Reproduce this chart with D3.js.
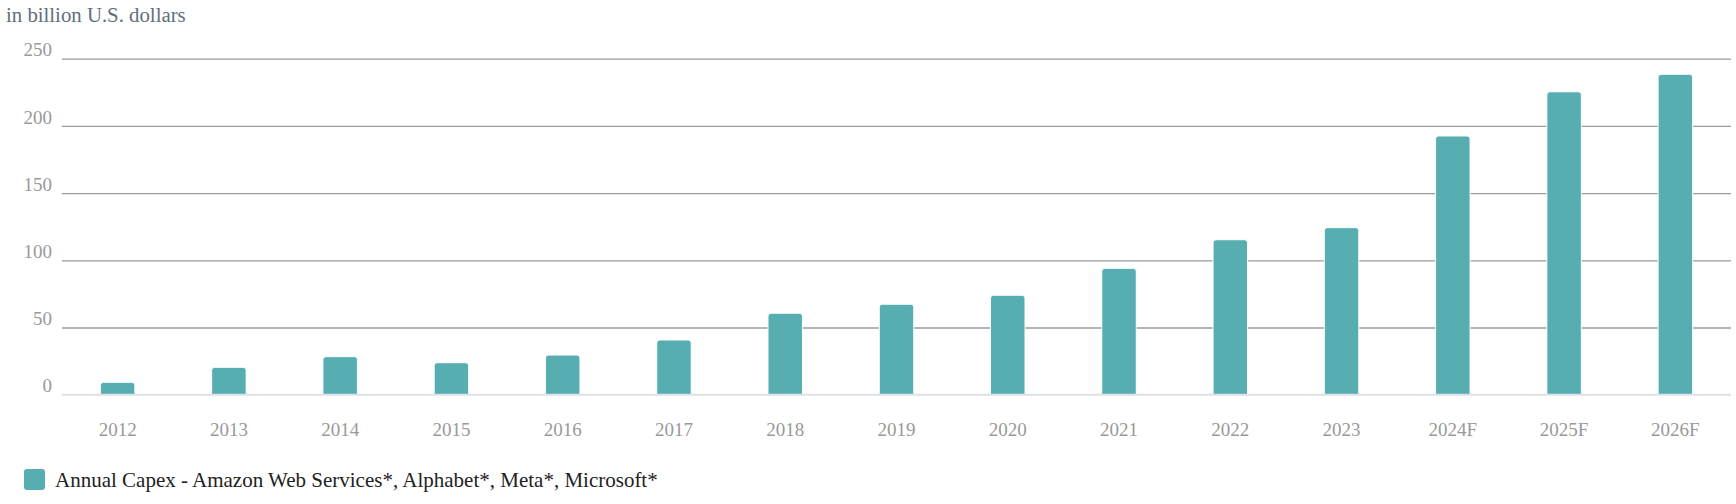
<!DOCTYPE html>
<html>
<head>
<meta charset="utf-8">
<script src="https://cdn.jsdelivr.net/npm/d3@7"></script>
<style>
  html, body { margin: 0; padding: 0; background: #ffffff; }
  svg { display: block; }
  text { font-family: "Liberation Serif", "Times New Roman", Times, serif; }
</style>
</head>
<body>
<svg id="chart" width="1736" height="504"></svg>
<script>
const categories = ["2012","2013","2014","2015","2016","2017","2018","2019","2020","2021","2022","2023","2024F","2025F","2026F"];
const capex = [9.2, 20.4, 28.3, 23.8, 29.5, 40.7, 60.6, 67.3, 74, 94, 115.3, 124.3, 192.5, 225.4, 238.4];
const yTicks = [0, 50, 100, 150, 200, 250];
const unitLabel = "in billion U.S. dollars";
const seriesName = "Annual Capex - Amazon Web Services*, Alphabet*, Meta*, Microsoft*";

const serif = "'Liberation Serif', 'Times New Roman', Times, serif";
const svg = d3.select("#chart");
const plot = { left: 62, right: 1731, top: 58.7, bottom: 394.7 };

const x = d3.scaleBand().domain(categories).range([plot.left, plot.right])
  .paddingInner(0.69).paddingOuter(0.345);
const y = d3.scaleLinear().domain([0, 250]).range([plot.bottom, plot.top]);

// title
svg.append("text").attr("x", 6).attr("y", 22).attr("fill", "#5f6f7d")
  .style("font-size", "20.8px").style("font-family", serif).text(unitLabel);

// gridlines
const yAxis = d3.axisLeft(y).tickValues(yTicks).tickSize(-(plot.right - plot.left)).tickFormat(d3.format("d"));
const gy = svg.append("g").attr("transform", `translate(${plot.left},0)`).call(yAxis);
gy.select(".domain").remove();
gy.selectAll(".tick line").attr("stroke-width", 1.3)
  .attr("stroke", d => d === 0 ? "none" : "#9a9a9a");
gy.selectAll(".tick text").attr("x", -10).attr("dy", "-0.15em").attr("fill", "#999999")
  .style("font-size", "19px").style("font-family", serif);

// bars with rounded top
const r = 3;
function barPath(d, i) {
  const x0 = x(categories[i]), w = x.bandwidth();
  const y0 = y(d), y1 = y(0);
  return `M${x0},${y1}L${x0},${y0 + r}Q${x0},${y0} ${x0 + r},${y0}L${x0 + w - r},${y0}Q${x0 + w},${y0} ${x0 + w},${y0 + r}L${x0 + w},${y1}Z`;
}
svg.append("g").selectAll("path").data(capex).join("path")
  .attr("d", barPath).attr("fill", "#56aeb1").attr("stroke", "#ffffff").attr("stroke-width", 1);

// baseline axis
const xAxis = d3.axisBottom(x).tickSize(0).tickPadding(0);
const gx = svg.append("g").attr("transform", `translate(0,${plot.bottom})`).call(xAxis);
gx.select(".domain").attr("stroke", "#dde1e6").attr("stroke-width", 2)
  .attr("d", `M${plot.left},0H${plot.right}`);
gx.selectAll(".tick text").attr("y", 41).attr("dy", 0).attr("fill", "#999999")
  .style("font-size", "19px").style("font-family", serif);

// legend
const lg = svg.append("g");
lg.append("rect").attr("x", 24).attr("y", 469).attr("width", 21).attr("height", 21).attr("rx", 3)
  .attr("fill", "#56aeb1");
lg.append("text").attr("x", 55).attr("y", 487).attr("fill", "#222222")
  .style("font-size", "21px").style("font-family", serif).text(seriesName);
</script>
</body>
</html>
